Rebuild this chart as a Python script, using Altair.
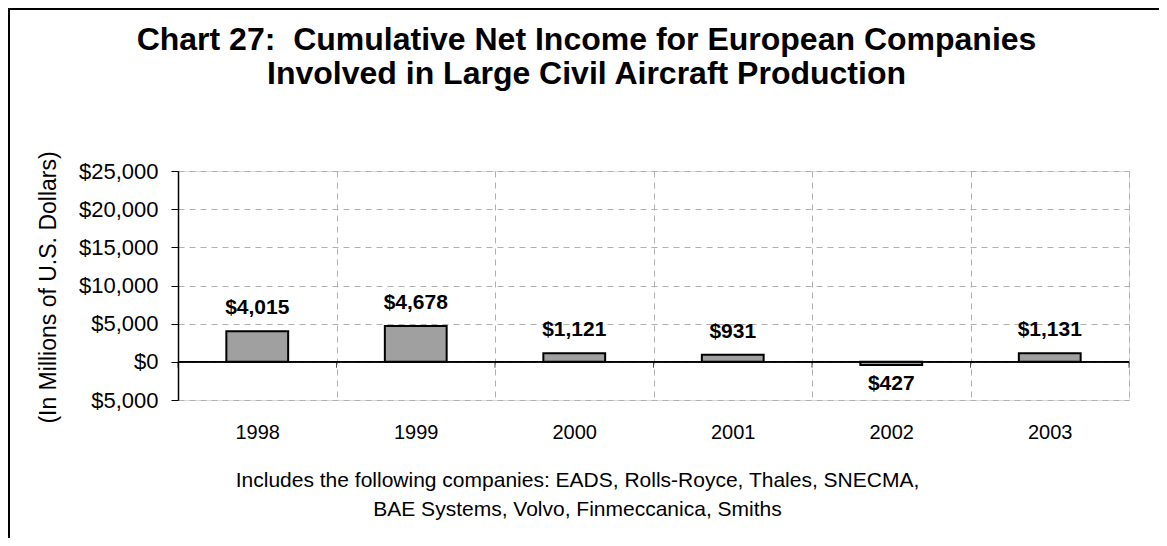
import altair as alt
import pandas as pd

years = ["1998", "1999", "2000", "2001", "2002", "2003"]
net_income = [4015, 4678, 1121, 931, -427, 1131]
y_ticks = [-5000, 0, 5000, 10000, 15000, 20000, 25000]

title_lines = ["Chart 27:\u00a0 Cumulative Net Income for European Companies",
               "Involved in Large Civil Aircraft Production"]
caption_lines = ["Includes the following companies: EADS, Rolls-Royce, Thales, SNECMA,",
                 "BAE Systems, Volvo, Finmeccanica, Smiths"]
y_title = "(In Millions of U.S. Dollars)"

FONT = "Liberation Sans"
W, H = 951, 229

df = pd.DataFrame({"year": years, "value": net_income})
df["label"] = ["$" + format(abs(v), ",") for v in net_income]
df["zero"] = 0

x_scale = alt.Scale(paddingInner=0, paddingOuter=0)
x_enc = alt.X(
    "year:N", sort=years, scale=x_scale,
    axis=alt.Axis(
        title=caption_lines, titleFont=FONT, titleFontSize=21, titleFontWeight="normal",
        titleColor="black", titleLineHeight=29, titleX=399, titleY=86,
        titleAlign="center", titleBaseline="alphabetic", titleAngle=0,
        labelFont=FONT, labelFontSize=20, labelColor="black", labelPadding=22,
        labelAngle=0, ticks=False, domain=False,
        grid=True, tickBand="extent", gridColor="#b0b0b0", gridDash=[6, 5], gridWidth=1,
    ),
)
y_scale = alt.Scale(domain=[-5000, 25000], nice=False, zero=False)
y_axis = alt.Axis(
    values=y_ticks, tickCount=7, title=y_title, titleFont=FONT, titleFontSize=23,
    titleFontWeight="normal", titleColor="black", titleAngle=-90,
    titleX=-130, titleY=116, titleAlign="center", titleBaseline="middle",
    labelFont=FONT, labelFontSize=22, labelColor="black", labelPadding=13,
    labelOverlap=False,
    labelExpr="'$' + format(abs(datum.value), ',')",
    tickSize=7, tickColor="black", domainColor="black", domainWidth=1.5,
    grid=True, gridColor="#b0b0b0", gridDash=[6, 5], gridWidth=1,
)
y_enc = alt.Y("value:Q", scale=y_scale, axis=y_axis)
y_zero = alt.Y("zero:Q", scale=y_scale, axis=y_axis)

base = alt.Chart(df)

bars = base.mark_bar(
    width=alt.RelativeBandSize(0.39), fill="#a0a0a0", stroke="black", strokeWidth=2
).encode(x=x_enc, y=y_enc)

zero_rule = base.mark_rule(color="black", strokeWidth=1).encode(y=y_zero)

zero_ticks = base.mark_tick(
    orient="vertical", size=6, thickness=1, color="black", yOffset=3
).encode(x=alt.X("year:N", sort=years, scale=x_scale, bandPosition=0), y=y_zero)

zero_tick_end = base.transform_filter(alt.datum.year == years[-1]).mark_tick(
    orient="vertical", size=6, thickness=1, color="black", yOffset=3
).encode(x=alt.X("year:N", sort=years, scale=x_scale, bandPosition=1), y=y_zero)

pos_labels = base.transform_filter(alt.datum.value >= 0).mark_text(
    font=FONT, fontSize=21, fontWeight="bold", color="black",
    baseline="alphabetic", dy=-17
).encode(x=alt.X("year:N", sort=years, scale=x_scale), y=y_enc, text="label:N")

neg_labels = base.transform_filter(alt.datum.value < 0).mark_text(
    font=FONT, fontSize=21, fontWeight="bold", color="black",
    baseline="alphabetic", dy=25
).encode(x=alt.X("year:N", sort=years, scale=x_scale), y=y_enc, text="label:N")

frame = alt.Chart(pd.DataFrame({"f": [0]})).mark_rect(
    fill="transparent", stroke="black", strokeWidth=2
).encode(x=alt.value(-169), x2=alt.value(1200), y=alt.value(-162), y2=alt.value(600))

chart = alt.layer(
    frame, bars, zero_rule, zero_ticks, zero_tick_end, pos_labels, neg_labels
).properties(
    width=W, height=H,
    title=alt.TitleParams(
        text=title_lines, font=FONT, fontSize=32, fontWeight="bold", color="black",
        anchor="middle", frame="group", dx=-67, offset=-115, lineHeight=34,
        baseline="bottom",
    ),
    autosize=alt.AutoSizeParams(type="none"),
    padding={"left": 170, "top": 163, "right": 30, "bottom": 138},
).configure_view(
    stroke="#8c8c8c", strokeWidth=2
).configure(background="white")

chart.save("out.html", embed_options={"renderer": "svg", "actions": False})
